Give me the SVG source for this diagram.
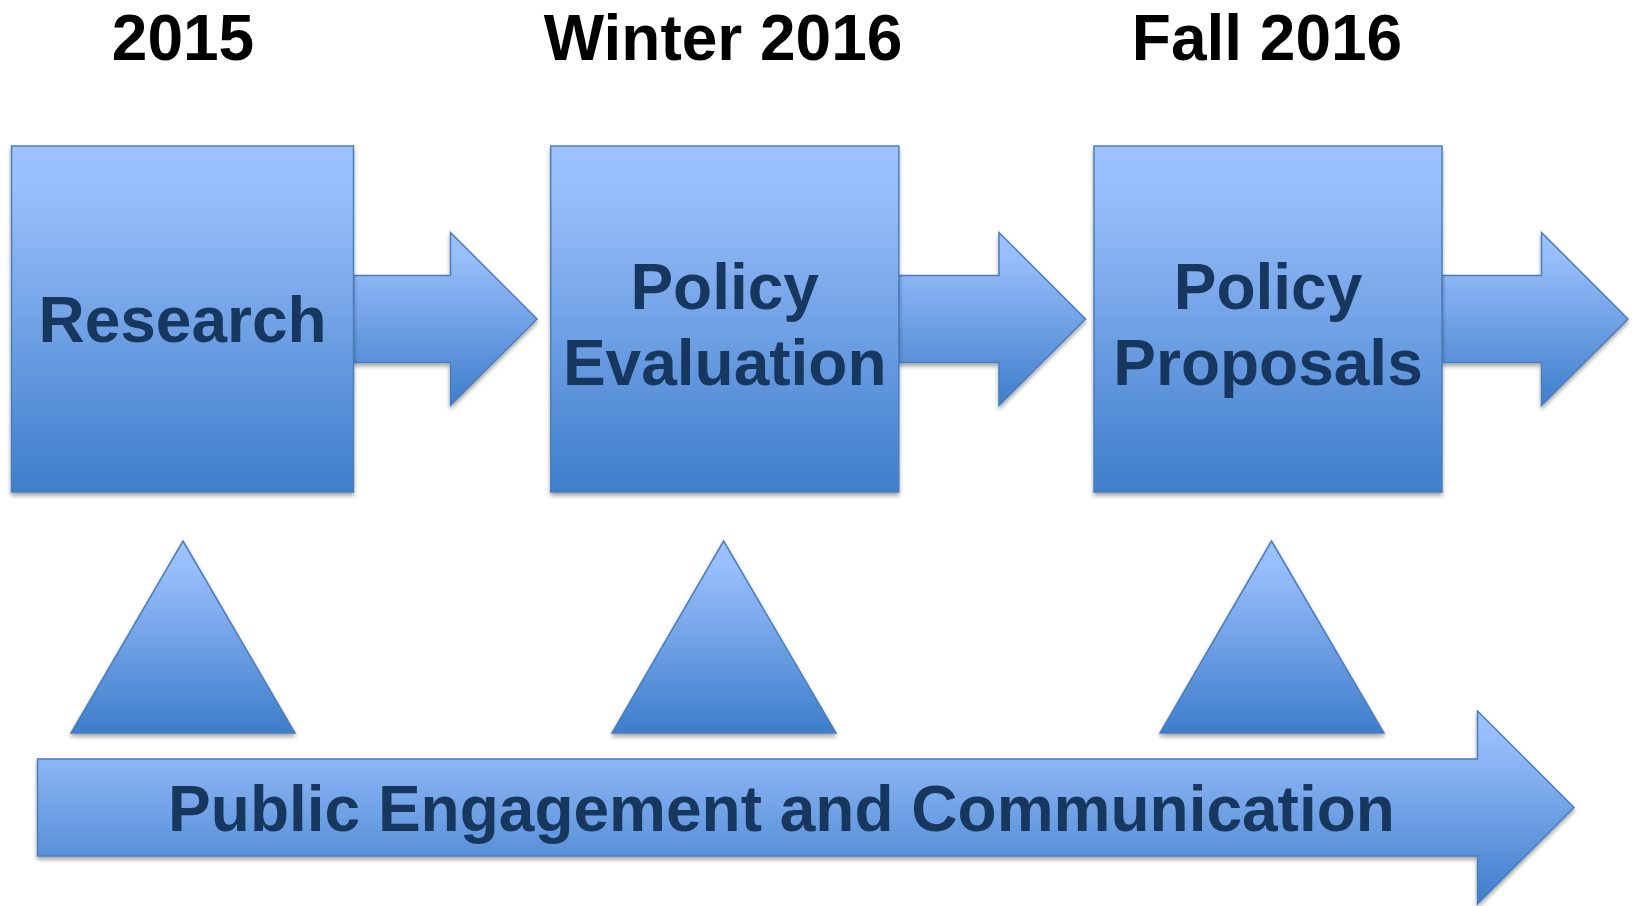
<svg xmlns="http://www.w3.org/2000/svg" width="1635" height="906" viewBox="0 0 1635 906">
<style>
.shape{stroke:#4A7EBB;stroke-width:1.5;fill:url(#g);filter:url(#sh)}
.lbl{font-family:"Liberation Sans",Arial,sans-serif;font-weight:bold;font-size:64px;fill:#17375E;text-anchor:middle}
.ttl{font-family:"Liberation Sans",Arial,sans-serif;font-weight:bold;font-size:64px;fill:#000;text-anchor:middle}
</style>
<defs>
<linearGradient id="g" x1="0" y1="0" x2="0" y2="1">
<stop offset="0" stop-color="#9CC2FF"/>
<stop offset="0.15" stop-color="#97BDFA"/>
<stop offset="1" stop-color="#3E7ECB"/>
</linearGradient>
<filter id="sh" x="-5%" y="-5%" width="110%" height="115%">
<feDropShadow dx="0" dy="3" stdDeviation="2" flood-color="#000" flood-opacity="0.35"/>
</filter>
</defs>
<rect width="1635" height="906" fill="#fff"/>
<g id="titles">
<text class="ttl" x="183" y="60">2015</text>
<text class="ttl" x="723" y="60">Winter 2016</text>
<text class="ttl" x="1267" y="60">Fall 2016</text>
</g>
<g id="connectors">
<polygon class="shape" points="353.5,275.5 450.5,275.5 450.5,232.5 537,319 450.5,405.5 450.5,362.5 353.5,362.5"/>
<polygon class="shape" points="898.8,275.5 999,275.5 999,232.5 1085.5,319 999,405.5 999,362.5 898.8,362.5"/>
<polygon class="shape" points="1442,275.5 1541.5,275.5 1541.5,232.5 1628,319 1541.5,405.5 1541.5,362.5 1442,362.5"/>
</g>
<g id="research">
<rect class="shape" x="11.5" y="146" width="342" height="346"/>
<text class="lbl" x="182.5" y="342">Research</text>
</g>
<g id="policy-evaluation">
<rect class="shape" x="550.7" y="146" width="348.1" height="346"/>
<text class="lbl" x="724.7" y="309">Policy</text>
<text class="lbl" x="724.7" y="385">Evaluation</text>
</g>
<g id="policy-proposals">
<rect class="shape" x="1094" y="146" width="348" height="346"/>
<text class="lbl" x="1268" y="309">Policy</text>
<text class="lbl" x="1268" y="385">Proposals</text>
</g>
<g id="triangle-1"><polygon class="shape" points="183,541 295,733 71,733"/></g>
<g id="triangle-2"><polygon class="shape" points="723.6,541 836,733 612,733"/></g>
<g id="triangle-3"><polygon class="shape" points="1271.5,541 1384,733 1160,733"/></g>
<g id="public-engagement">
<polygon class="shape" points="37.5,759 1477.5,759 1477.5,711 1574,807.5 1477.5,904 1477.5,856 37.5,856"/>
<text class="lbl" x="781.5" y="831">Public Engagement and Communication</text>
</g>
</svg>
